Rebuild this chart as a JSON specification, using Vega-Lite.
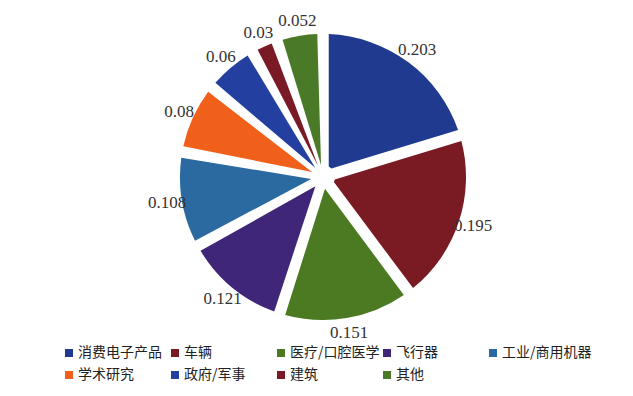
{
  "$schema": "https://vega.github.io/schema/vega-lite/v6.json",
  "width": 626,
  "height": 354,
  "padding": {"left": 10, "top": 0, "right": 0, "bottom": 0},
  "autosize": {"type": "pad"},
  "background": "white",
  "config": {"view": {"stroke": null}},
  "data": {
    "values": [
      {"category": "消费电子产品", "value": 0.203, "label": "0.203", "order": 1},
      {"category": "车辆", "value": 0.195, "label": "0.195", "order": 2},
      {"category": "医疗/口腔医学", "value": 0.151, "label": "0.151", "order": 3},
      {"category": "飞行器", "value": 0.121, "label": "0.121", "order": 4},
      {"category": "工业/商用机器", "value": 0.108, "label": "0.108", "order": 5},
      {"category": "学术研究", "value": 0.08, "label": "0.08", "order": 6},
      {"category": "政府/军事", "value": 0.06, "label": "0.06", "order": 7},
      {"category": "建筑", "value": 0.03, "label": "0.03", "order": 8},
      {"category": "其他", "value": 0.052, "label": "0.052", "order": 9}
    ]
  },
  "encoding": {
    "theta": {"field": "value", "type": "quantitative", "stack": true},
    "order": {"field": "order", "type": "quantitative"}
  },
  "layer": [
    {
      "mark": {"type": "arc", "outerRadius": 143, "innerRadius": 12, "padAngle": 0.08},
      "encoding": {
        "color": {
          "field": "category",
          "type": "nominal",
          "sort": null,
          "scale": {
            "domain": ["消费电子产品", "车辆", "医疗/口腔医学", "飞行器", "工业/商用机器", "学术研究", "政府/军事", "建筑", "其他"],
            "range": ["#1f3a8f", "#7a1a22", "#4b7a22", "#3f2678", "#2a6aa0", "#f0601a", "#2340a0", "#7a1a26", "#4a7a28"]
          },
          "legend": {
            "title": null,
            "orient": "none",
            "legendX": 52,
            "legendY": 346,
            "direction": "horizontal",
            "columns": 5,
            "gridAlign": "all",
            "symbolType": "square",
            "symbolSize": 64,
            "symbolStrokeWidth": 0,
            "labelFont": "Noto Sans CJK SC",
            "labelFontSize": 14,
            "labelColor": "#222222",
            "labelOffset": 2,
            "labelLimit": 200,
            "columnPadding": 0,
            "rowPadding": 8
          }
        }
      }
    },
    {
      "mark": {"type": "text", "radius": 158, "font": "Liberation Serif", "fontSize": 17, "color": "#333333"},
      "encoding": {
        "text": {"field": "label", "type": "nominal"}
      }
    }
  ]
}
